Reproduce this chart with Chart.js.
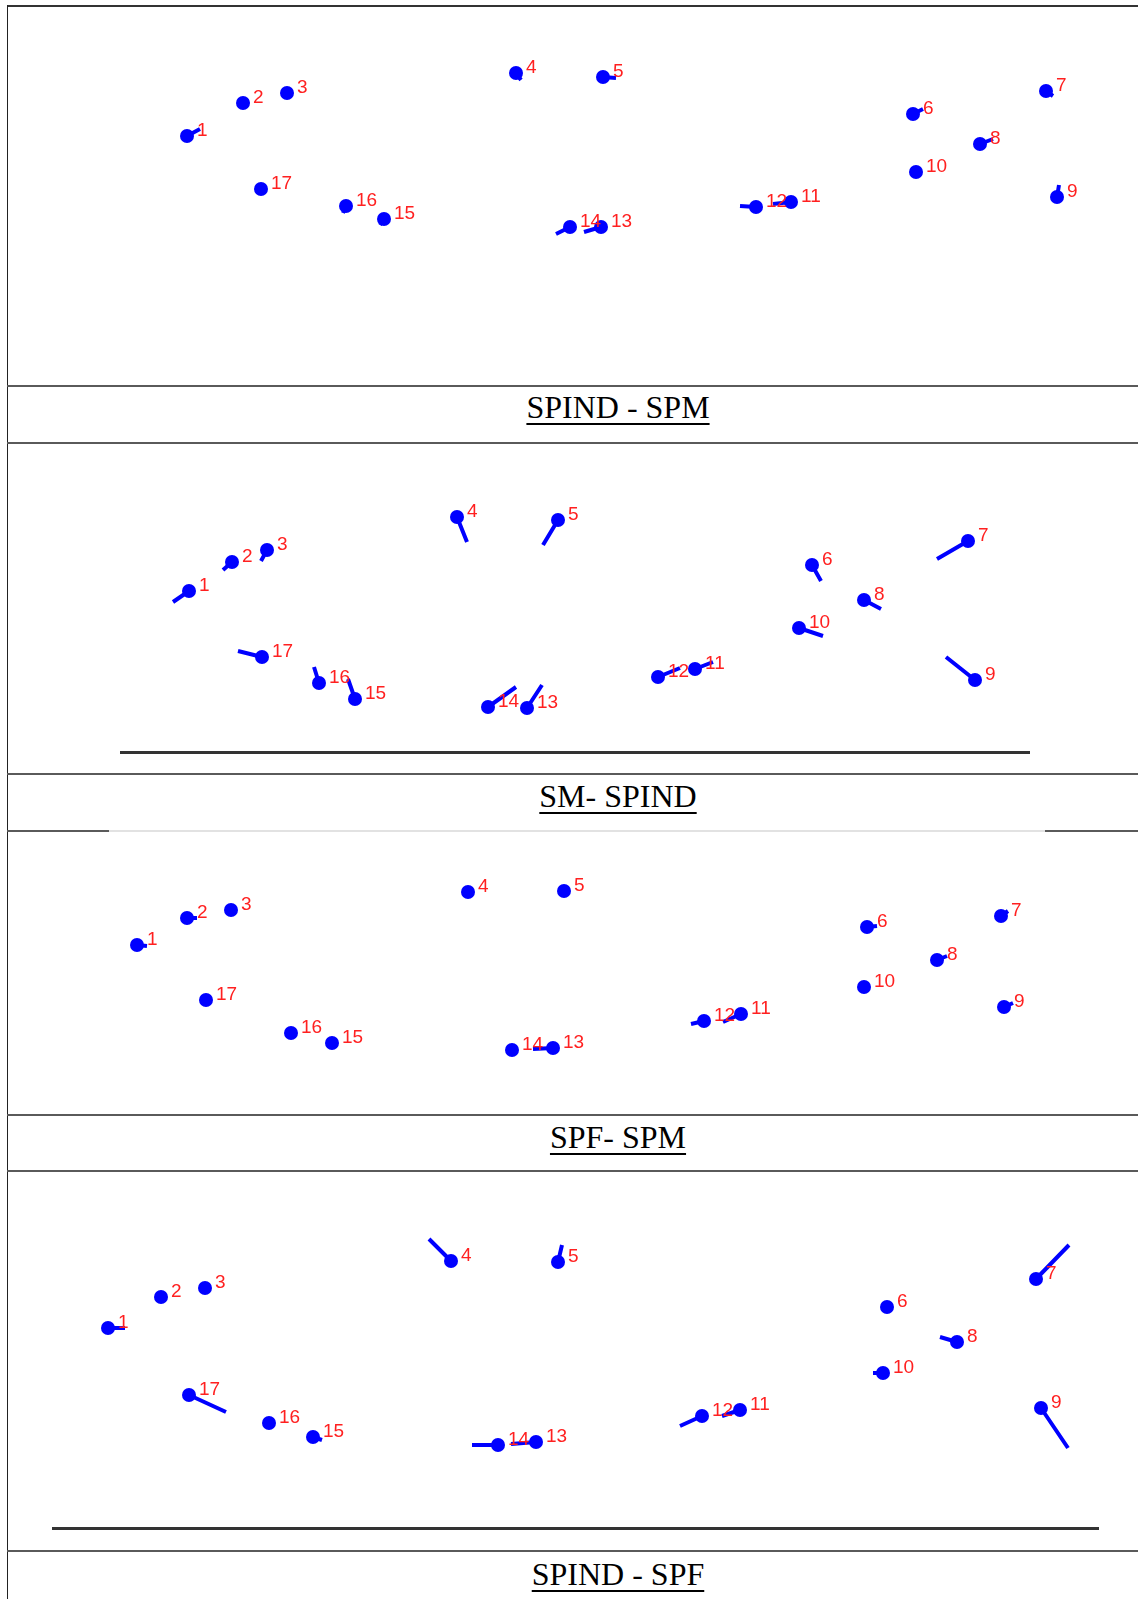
<!DOCTYPE html>
<html>
<head>
<meta charset="utf-8">
<script src="https://cdn.jsdelivr.net/npm/chart.js@4/dist/chart.umd.min.js"></script>
<style>
  body { margin: 0; background: #fff; }
  #page { position: relative; width: 1138px; height: 1599px; overflow: hidden; background: #fff; }
  .hline { position: absolute; left: 7px; right: 0; height: 2px; background: #5a5a5a; }
  .vline { position: absolute; left: 7px; top: 5px; bottom: 0; width: 1px; background: #222; }
  .axis { position: absolute; height: 3px; background: #333; }
  .caption {
    position: absolute; left: 368px; width: 500px; text-align: center;
    font-family: "Liberation Serif", "Times New Roman", serif; font-size: 32px; line-height: 32px;
    color: #000; text-decoration: underline; text-decoration-thickness: 2px; text-underline-offset: 5px;
  }
  canvas { position: absolute; left: 8px; }
</style>
</head>
<body>
<div id="page">
  <div class="hline" style="top:5px;background:#333;"></div>
  <div class="vline"></div>

  <div class="hline" style="top:385px;"></div>
  <div class="caption" style="top:391px;">SPIND - SPM</div>
  <div class="hline" style="top:442px;"></div>

  <div class="axis" style="left:120px;width:910px;top:751px;"></div>
  <div class="hline" style="top:773px;"></div>
  <div class="caption" style="top:780px;">SM- SPIND</div>
  <div class="hline" style="top:830px;background:#e2e2e2;"></div>
  <div class="hline" style="top:830px;right:auto;width:102px;"></div>
  <div class="hline" style="top:830px;left:1045px;"></div>

  <div class="hline" style="top:1114px;"></div>
  <div class="caption" style="top:1121px;">SPF- SPM</div>
  <div class="hline" style="top:1170px;"></div>

  <div class="axis" style="left:52px;width:1047px;top:1527px;"></div>
  <div class="hline" style="top:1550px;"></div>
  <div class="caption" style="top:1558px;">SPIND - SPF</div>

  <canvas id="c1" width="1130" height="378" style="top:7px"></canvas>
  <canvas id="c2" width="1130" height="329" style="top:444px"></canvas>
  <canvas id="c3" width="1130" height="281" style="top:833px"></canvas>
  <canvas id="c4" width="1130" height="377" style="top:1173px"></canvas>
</div>

<script>
// point numbers 1..17
const pointLabels = ['1','2','3','4','5','6','7','8','9','10','11','12','13','14','15','16','17'];

// SPIND - SPM : dot position and vector end
const spmX  = [187, 243, 287, 516, 603, 913, 1046, 980, 1057, 916, 791, 756, 601, 570, 384, 346, 261];
const spmY  = [136, 103, 93, 73, 77, 114, 91, 144, 197, 172, 202, 207, 227, 227, 219, 206, 189];
const spmEX = [200, 249, 290, 521, 616, 923, 1053, 993, 1059, 918, 773, 740, 584, 556, 380, 343, 263];
const spmEY = [129, 101, 91, 80, 78, 109, 96, 139, 185, 172, 204, 206, 232, 234, 225, 213, 189];

// SM- SPIND
const smX  = [189, 232, 267, 457, 558, 812, 968, 864, 975, 799, 695, 658, 527, 488, 355, 319, 262];
const smY  = [591, 562, 550, 517, 520, 565, 541, 600, 680, 628, 669, 677, 708, 707, 699, 683, 657];
const smEX = [173, 223, 261, 467, 543, 821, 937, 881, 946, 823, 713, 680, 542, 516, 348, 314, 238];
const smEY = [602, 570, 561, 542, 545, 581, 559, 609, 657, 636, 662, 668, 685, 687, 679, 667, 651];

// SPF- SPM
const spfX  = [137, 187, 231, 468, 564, 867, 1001, 937, 1004, 864, 741, 704, 553, 512, 332, 291, 206];
const spfY  = [945, 918, 910, 892, 891, 927, 916, 960, 1007, 987, 1014, 1021, 1048, 1050, 1043, 1033, 1000];
const spfEX = [147, 197, 231, 468, 564, 877, 1008, 947, 1013, 864, 723, 691, 533, 512, 332, 291, 206];
const spfEY = [946, 918, 910, 892, 891, 926, 911, 956, 1003, 987, 1022, 1024, 1049, 1050, 1043, 1033, 1000];

// SPIND - SPF
const sfX  = [108, 161, 205, 451, 558, 887, 1036, 957, 1041, 883, 740, 702, 536, 498, 313, 269, 189];
const sfY  = [1328, 1297, 1288, 1261, 1262, 1307, 1279, 1342, 1408, 1373, 1410, 1416, 1442, 1445, 1437, 1423, 1395];
const sfEX = [125, 166, 205, 429, 562, 887, 1069, 940, 1068, 873, 722, 680, 511, 472, 322, 269, 226];
const sfEY = [1328, 1300, 1288, 1239, 1245, 1307, 1245, 1337, 1448, 1373, 1416, 1426, 1444, 1445, 1440, 1423, 1412];

const labelPlugin = {
    id: 'pointNumbers',
    afterDatasetsDraw(chart) {
        const ctx = chart.ctx;
        const meta = chart.getDatasetMeta(0);
        ctx.save();
        ctx.font = '19px "Liberation Sans", Arial, sans-serif';
        ctx.fillStyle = '#ff2020';
        ctx.textAlign = 'left';
        ctx.textBaseline = 'alphabetic';
        meta.data.forEach((el, i) => {
            ctx.fillText(pointLabels[i], el.x + 10, el.y);
        });
        ctx.restore();
    }
};

function drawPanel(id, xs, ys, exs, eys, yMin, yMax) {
    const dots = xs.map((x, i) => ({x: x, y: ys[i]}));
    const vectors = [];
    xs.forEach((x, i) => {
        vectors.push({x: x, y: ys[i]});
        vectors.push({x: exs[i], y: eys[i]});
        vectors.push({x: exs[i], y: null});
    });

    new Chart(document.getElementById(id), {
        type: 'scatter',
        data: {
            datasets: [{
                data: dots,
                pointRadius: 7,
                pointBackgroundColor: '#0000ff',
                pointBorderWidth: 0
            }, {
                data: vectors,
                showLine: true,
                spanGaps: false,
                borderColor: '#0000ff',
                borderWidth: 4,
                pointRadius: 0
            }]
        },
        options: {
            responsive: false,
            animation: false,
            events: [],
            layout: { padding: 0, autoPadding: false },
            plugins: {
                legend: { display: false },
                tooltip: { enabled: false }
            },
            scales: {
                x: { type: 'linear', display: false, min: 8, max: 1138 },
                y: { type: 'linear', display: false, min: yMin, max: yMax, reverse: true }
            }
        },
        plugins: [labelPlugin]
    });
}

drawPanel('c1', spmX, spmY, spmEX, spmEY, 7, 385);
drawPanel('c2', smX, smY, smEX, smEY, 444, 773);
drawPanel('c3', spfX, spfY, spfEX, spfEY, 833, 1114);
drawPanel('c4', sfX, sfY, sfEX, sfEY, 1173, 1550);
</script>
</body>
</html>
